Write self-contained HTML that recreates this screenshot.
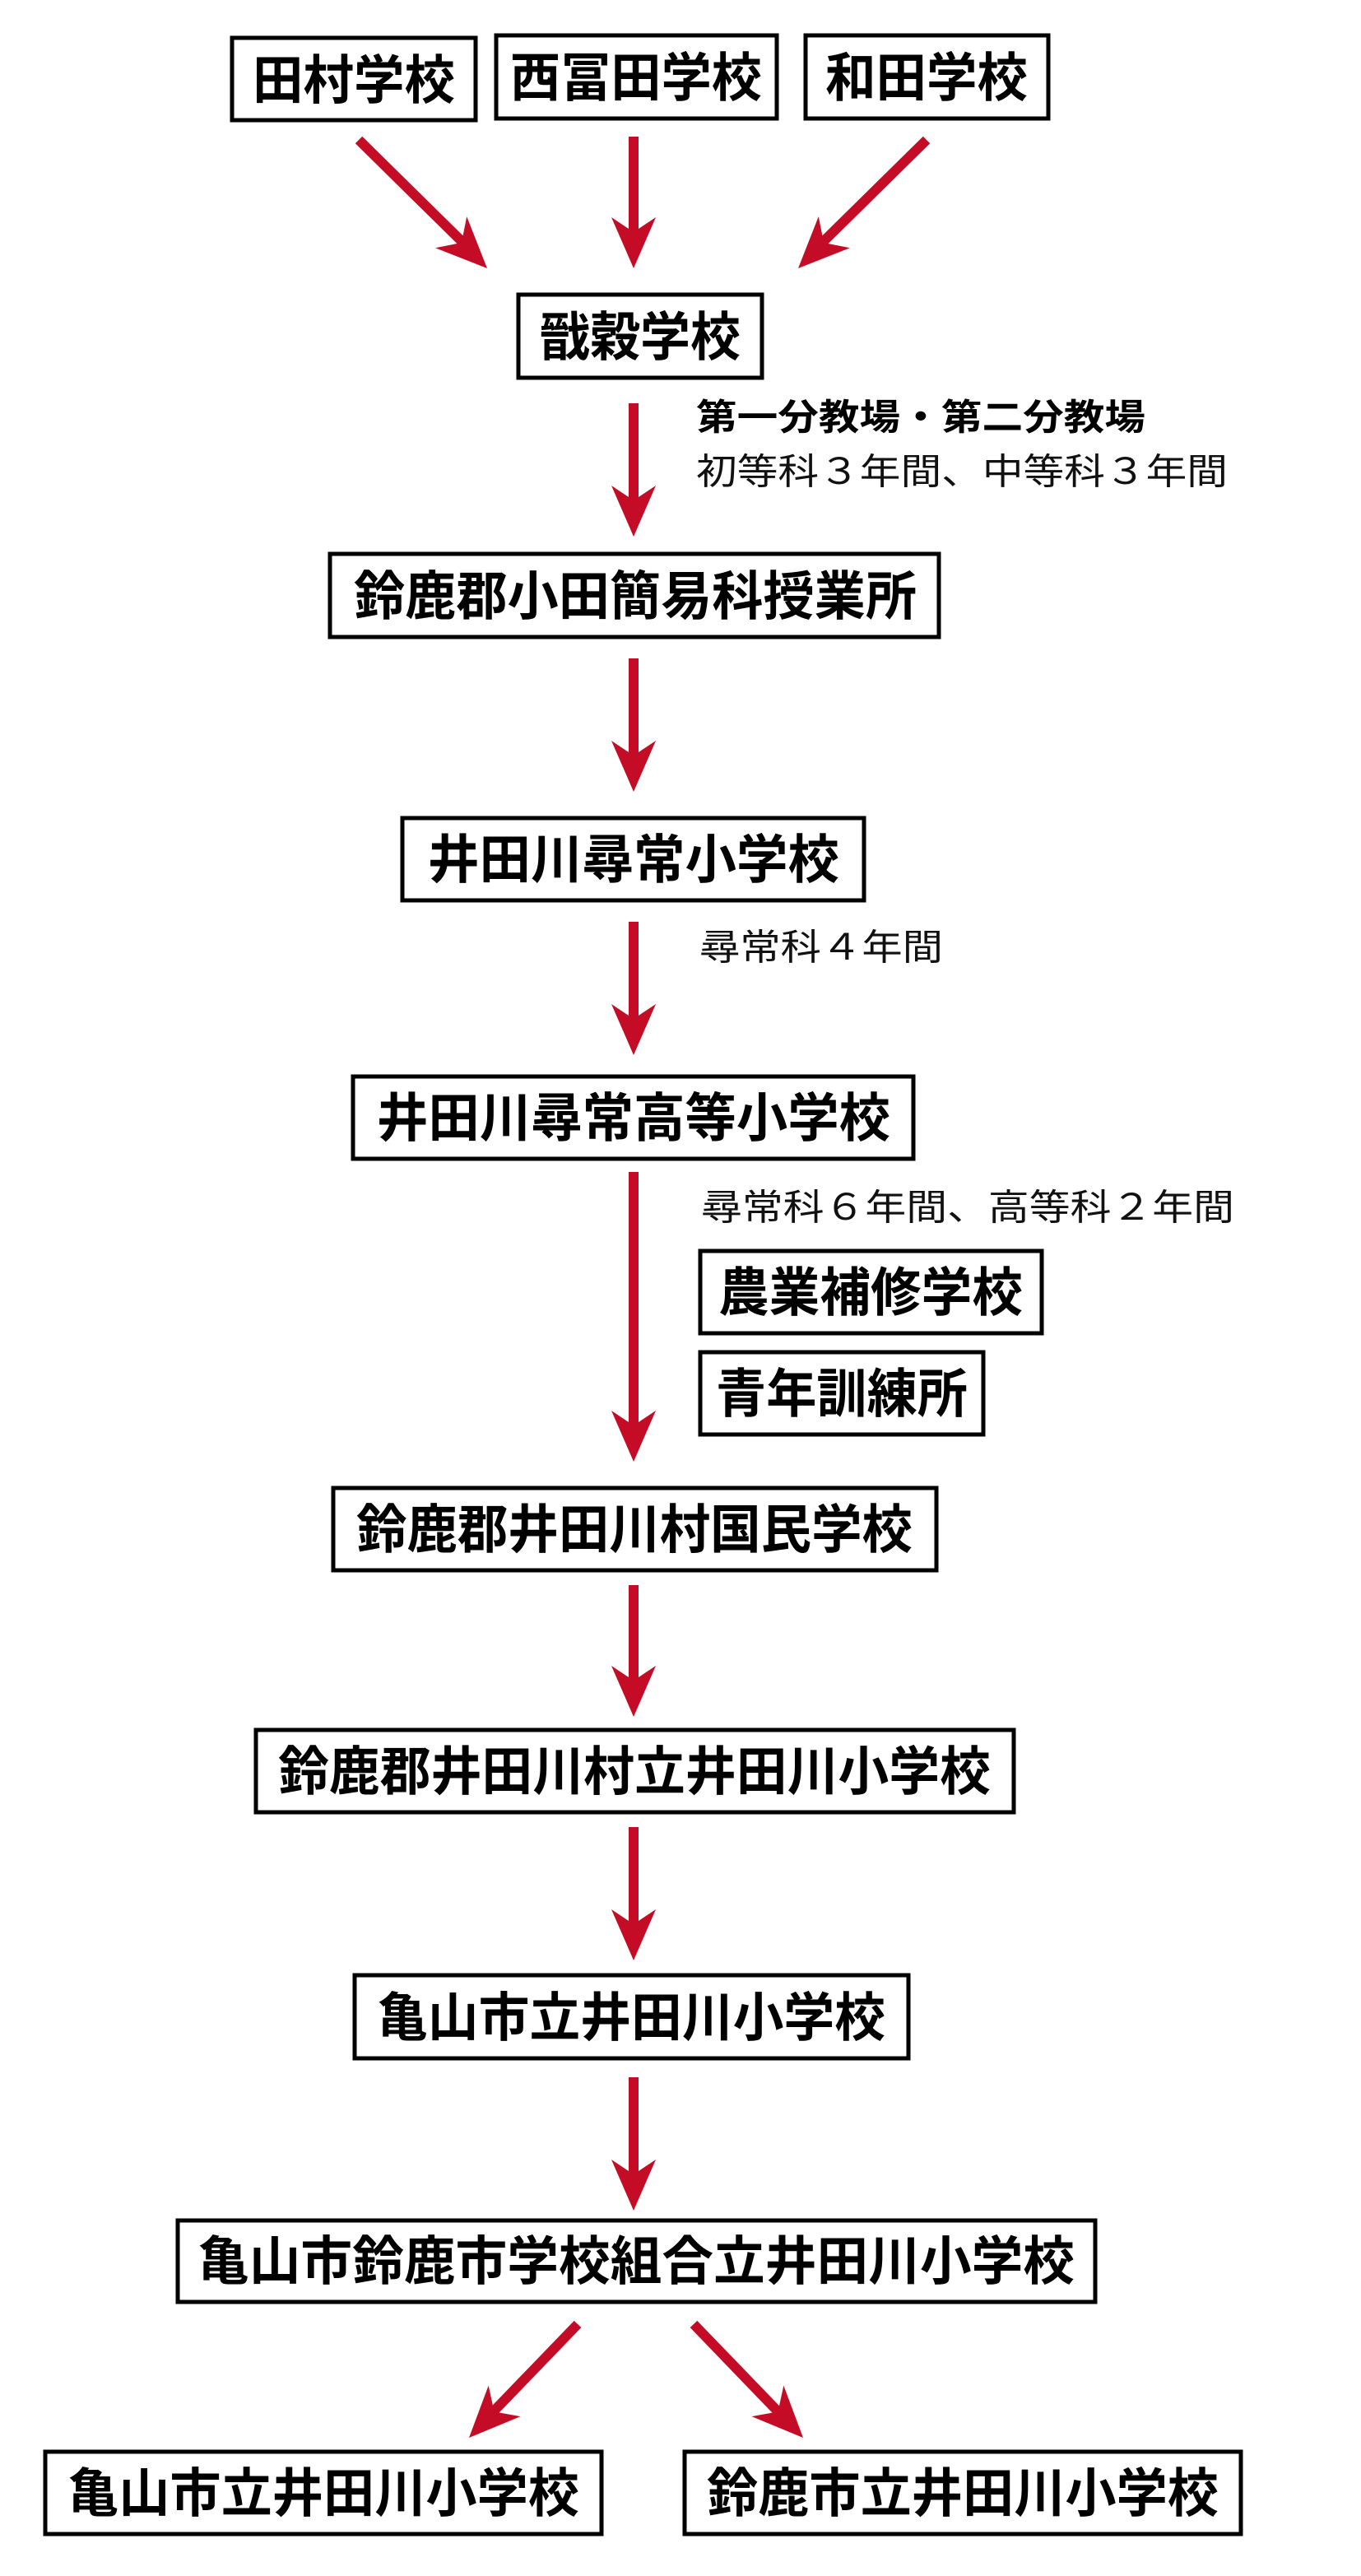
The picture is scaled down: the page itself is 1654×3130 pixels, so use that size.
<!DOCTYPE html>
<html><head><meta charset="utf-8"><style>
html,body{margin:0;padding:0;background:#fff}
svg{display:block}
.b{font-family:"Liberation Sans","Noto Sans CJK JP",sans-serif;font-weight:bold;font-size:64px;fill:#000}
.l{font-family:"Liberation Sans","Noto Sans CJK JP",sans-serif;font-size:44px;fill:#111}
.lb{font-family:"Liberation Sans","Noto Sans CJK JP",sans-serif;font-weight:bold;font-size:44px;fill:#000}
rect{fill:#fff;stroke:#000;stroke-width:5}
.a{stroke:#c40c26;stroke-width:12;fill:none}
.h{fill:#c40c26}
</style></head><body>
<svg width="1654" height="3130" viewBox="0 0 1654 3130" xmlns="http://www.w3.org/2000/svg">
<defs>
<polygon id="hd" class="h" points="0,0 -27,-62 0,-44 27,-62"/>
</defs>
<rect x="282" y="46" width="296" height="100"/>
<text class="b" x="430" y="98" dominant-baseline="central" text-anchor="middle" textLength="246" lengthAdjust="spacingAndGlyphs">田村学校</text>
<rect x="603" y="43" width="341" height="101"/>
<text class="b" x="773" y="95" dominant-baseline="central" text-anchor="middle" textLength="306" lengthAdjust="spacingAndGlyphs">西冨田学校</text>
<rect x="979" y="43" width="295" height="101"/>
<text class="b" x="1126" y="95" dominant-baseline="central" text-anchor="middle" textLength="246" lengthAdjust="spacingAndGlyphs">和田学校</text>

<rect x="630" y="358" width="296" height="101"/>
<text class="b" x="778" y="410" dominant-baseline="central" text-anchor="middle" textLength="244" lengthAdjust="spacingAndGlyphs">戩穀学校</text>
<text class="lb" x="846" y="522" textLength="546" lengthAdjust="spacingAndGlyphs">第一分教場・第二分教場</text>
<text class="l" x="846" y="588" textLength="646" lengthAdjust="spacingAndGlyphs">初等科３年間、中等科３年間</text>

<rect x="401" y="673" width="740" height="101"/>
<text class="b" x="772" y="725" dominant-baseline="central" text-anchor="middle" textLength="684" lengthAdjust="spacingAndGlyphs">鈴鹿郡小田簡易科授業所</text>

<rect x="489" y="994" width="561" height="100"/>
<text class="b" x="770" y="1045" dominant-baseline="central" text-anchor="middle" textLength="500" lengthAdjust="spacingAndGlyphs">井田川尋常小学校</text>
<text class="l" x="850" y="1166" textLength="296" lengthAdjust="spacingAndGlyphs">尋常科４年間</text>

<rect x="429" y="1308" width="681" height="100"/>
<text class="b" x="770" y="1359" dominant-baseline="central" text-anchor="middle" textLength="624" lengthAdjust="spacingAndGlyphs">井田川尋常高等小学校</text>
<text class="l" x="852" y="1482" textLength="648" lengthAdjust="spacingAndGlyphs">尋常科６年間、高等科２年間</text>

<rect x="851" y="1520" width="415" height="100"/>
<text class="b" x="1058" y="1571" dominant-baseline="central" text-anchor="middle" textLength="370" lengthAdjust="spacingAndGlyphs">農業補修学校</text>
<rect x="851" y="1643" width="344" height="100"/>
<text class="b" x="1023" y="1694" dominant-baseline="central" text-anchor="middle" textLength="306" lengthAdjust="spacingAndGlyphs">青年訓練所</text>

<rect x="405" y="1808" width="733" height="100"/>
<text class="b" x="771" y="1859" dominant-baseline="central" text-anchor="middle" textLength="676" lengthAdjust="spacingAndGlyphs">鈴鹿郡井田川村国民学校</text>

<rect x="311" y="2102" width="921" height="100"/>
<text class="b" x="771" y="2153" dominant-baseline="central" text-anchor="middle" textLength="866" lengthAdjust="spacingAndGlyphs">鈴鹿郡井田川村立井田川小学校</text>

<rect x="431" y="2400" width="673" height="101"/>
<text class="b" x="767" y="2452" dominant-baseline="central" text-anchor="middle" textLength="618" lengthAdjust="spacingAndGlyphs">亀山市立井田川小学校</text>

<rect x="216" y="2698" width="1115" height="99"/>
<text class="b" x="773" y="2748" dominant-baseline="central" text-anchor="middle" textLength="1066" lengthAdjust="spacingAndGlyphs">亀山市鈴鹿市学校組合立井田川小学校</text>

<rect x="55" y="2979" width="676" height="100"/>
<text class="b" x="393" y="3030" dominant-baseline="central" text-anchor="middle" textLength="622" lengthAdjust="spacingAndGlyphs">亀山市立井田川小学校</text>
<rect x="832" y="2979" width="676" height="100"/>
<text class="b" x="1170" y="3030" dominant-baseline="central" text-anchor="middle" textLength="622" lengthAdjust="spacingAndGlyphs">鈴鹿市立井田川小学校</text>

<g>
<line class="a" x1="436" y1="170" x2="568" y2="300"/>
<use href="#hd" transform="translate(592,326) rotate(-45)"/>
<line class="a" x1="770" y1="166" x2="770" y2="290"/>
<use href="#hd" transform="translate(770,326)"/>
<line class="a" x1="1126" y1="170" x2="994" y2="300"/>
<use href="#hd" transform="translate(970,326) rotate(45)"/>

<line class="a" x1="770" y1="490" x2="770" y2="616"/>
<use href="#hd" transform="translate(770,652)"/>
<line class="a" x1="770" y1="800" x2="770" y2="926"/>
<use href="#hd" transform="translate(770,962)"/>
<line class="a" x1="770" y1="1120" x2="770" y2="1246"/>
<use href="#hd" transform="translate(770,1282)"/>
<line class="a" x1="770" y1="1424" x2="770" y2="1740"/>
<use href="#hd" transform="translate(770,1776)"/>
<line class="a" x1="770" y1="1926" x2="770" y2="2050"/>
<use href="#hd" transform="translate(770,2086)"/>
<line class="a" x1="770" y1="2220" x2="770" y2="2346"/>
<use href="#hd" transform="translate(770,2382)"/>
<line class="a" x1="770" y1="2524" x2="770" y2="2650"/>
<use href="#hd" transform="translate(770,2686)"/>

<line class="a" x1="702" y1="2824" x2="594" y2="2936"/>
<use href="#hd" transform="translate(570,2962) rotate(44)"/>
<line class="a" x1="843" y1="2824" x2="951" y2="2936"/>
<use href="#hd" transform="translate(976,2962) rotate(-44)"/>
</g>
</svg>
</body></html>
